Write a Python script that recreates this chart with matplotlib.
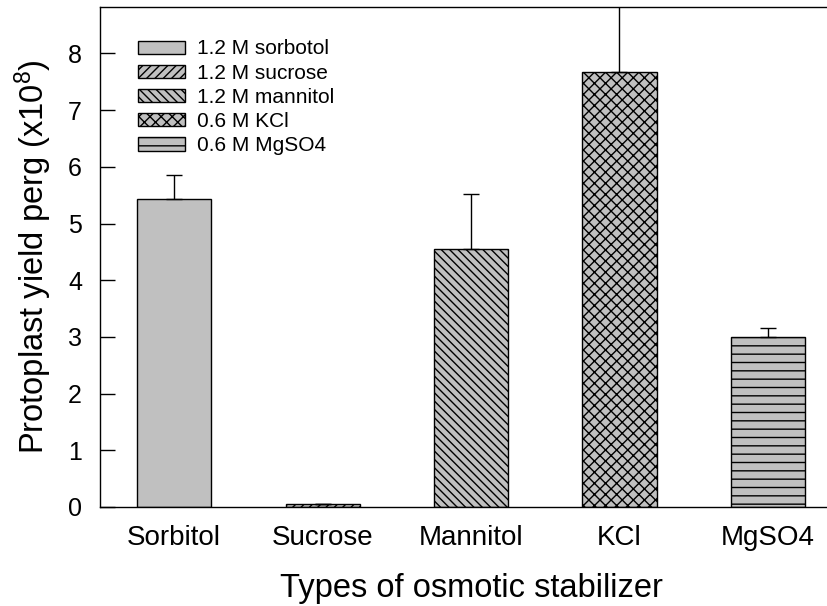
import numpy as np
import matplotlib
matplotlib.use("Agg")
import matplotlib.pyplot as plt

plt.rcParams['font.family'] = ['Liberation Sans', 'DejaVu Sans']
plt.rcParams['mathtext.default'] = 'regular'
plt.rcParams['hatch.linewidth'] = 1.0

categories = ["Sorbitol", "Sucrose", "Mannitol", "KCl", "MgSO4"]
legend_labels = ["1.2 M sorbotol", "1.2 M sucrose", "1.2 M mannitol", "0.6 M KCl", "0.6 M MgSO4"]
yields = [5.43, 0.06, 4.55, 7.67, 2.99]
errs = [0.43, 0.0, 0.98, 1.6, 0.17]
hatches = ["", "////", "\\\\\\\\", "xxx", "--"]

fig = plt.figure(figsize=(8.28, 6.06), dpi=100)
ax = fig.add_axes([100 / 828, 99 / 606, 742 / 828, 500 / 606])

x = np.arange(len(categories))
for i in range(len(categories)):
    ax.bar(x[i], yields[i], width=0.5, color="#c0c0c0", edgecolor="black",
           linewidth=1.0, hatch=hatches[i], label=legend_labels[i], zorder=2)

# only upper error bars
ax.errorbar(x, yields, yerr=[np.zeros(len(errs)), errs], fmt="none",
            ecolor="black", elinewidth=1.0, capsize=6, capthick=1.0, zorder=3)

ax.set_xlim(-0.5, 4.5)
ax.set_ylim(0, 8.82)
ax.set_yticks(range(0, 9))
ax.set_xticks(x)
ax.set_xticklabels(categories, fontsize=20)
ax.tick_params(axis="y", direction="in", length=11, width=1, labelsize=18, pad=13)
ax.tick_params(axis="x", length=0, pad=13)

for s in ax.spines.values():
    s.set_linewidth(1.0)

ax.set_xlabel("Types of osmotic stabilizer", fontsize=23.5, labelpad=16)
ax.set_ylabel("Protoplast yield perg (x10$^{8}$)", fontsize=23.5, labelpad=10)

ax.legend(loc="upper left", bbox_to_anchor=(0.051, 0.935), frameon=False,
          fontsize=15, handlelength=2.26, handleheight=0.6,
          handletextpad=0.6, labelspacing=0.25, borderaxespad=0,
          borderpad=0)

fig.savefig("out.png", dpi=100)
